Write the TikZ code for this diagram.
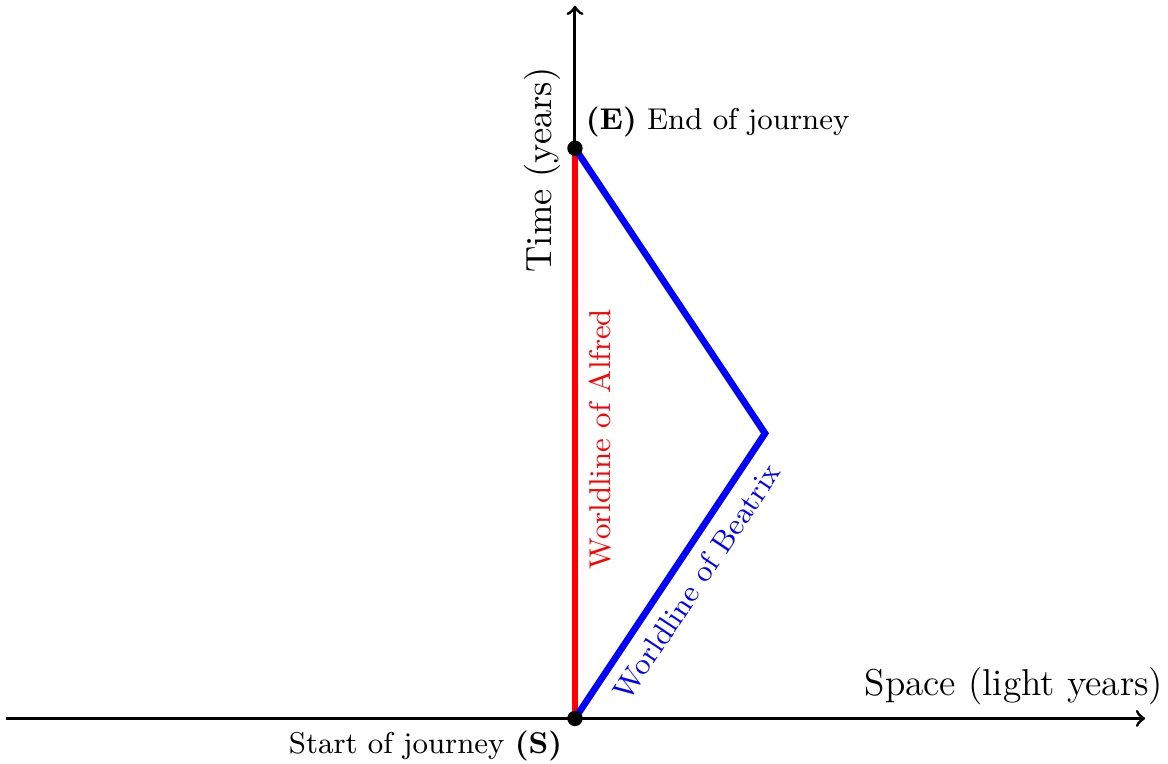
\documentclass[tikz,border=0pt]{standalone}
\begin{document}
\begin{tikzpicture}[
  axis/.style={line width=0.9pt,->},
  world/.style={line width=2pt},
  dot/.style={circle,fill=black,inner sep=0pt,minimum size=4.6pt},
  smalltext/.style={font=\fontsize{9}{11}\selectfont},
  bigtext/.style={font=\fontsize{11.2}{13}\selectfont}
]
\useasboundingbox (-6.05,-0.47) rectangle (6.24,7.56);
\coordinate (S) at (0,0);
\coordinate (E) at (0,6);
\coordinate (T) at (2,3);
\coordinate (XL) at (-5.99,0);
\coordinate (XR) at (6,0);
\coordinate (YT) at (0,7.5);
\draw[axis] (XL) -- (XR);
\draw[axis] (S) -- (YT);
\node[bigtext,anchor=south east,inner sep=1pt] (space) at (6.23,0.1) {Space (light years)};
\node[bigtext,rotate=90,font=\fontsize{10.9}{13}\selectfont] (time) at (-0.34,5.77) {Time (years)};
\draw[world,red] (S) -- node[sloped,below,smalltext,red,pos=0.49] (alf) {Worldline of Alfred} (E);
\draw[world,blue] (S) -- node[sloped,below,smalltext,blue,pos=0.53] (bea) {Worldline of Beatrix} (T) -- (E);
\node[dot] (Sd) at (S) {};
\node[dot] (Ed) at (E) {};
\node[smalltext,anchor=south west] (elab) at (-0.01,5.99) {\textbf{(E)} End of journey};
\node[smalltext,anchor=north east] (slab) at (-0.01,-0.01) {Start of journey \textbf{(S)}};
\end{tikzpicture}
\end{document}
